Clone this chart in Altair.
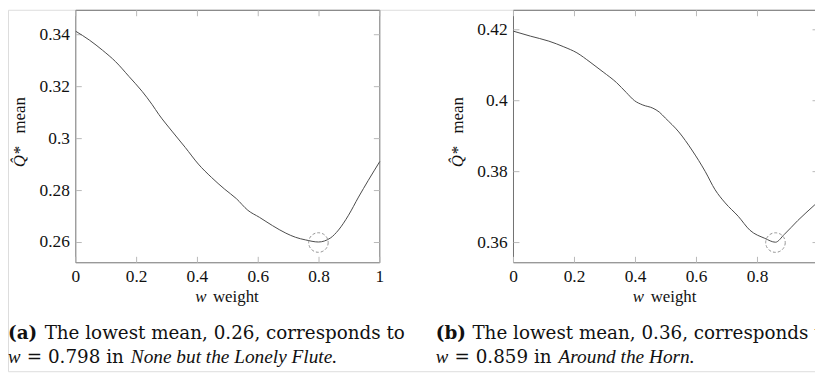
import altair as alt
import pandas as pd

# ---------------- data ----------------
w_a = [0.0, 0.045, 0.088, 0.131, 0.175, 0.218, 0.251, 0.273, 0.316, 0.360, 0.403, 0.446,
       0.490, 0.528, 0.566, 0.604, 0.647, 0.691, 0.723, 0.756, 0.798, 0.837, 0.864, 0.897,
       0.930, 0.962, 1.0]
q_a = [0.3413, 0.3379, 0.3340, 0.3296, 0.3239, 0.3182, 0.3131, 0.3093, 0.3029, 0.2966, 0.2902, 0.2851,
       0.2805, 0.2769, 0.2724, 0.2697, 0.2665, 0.2636, 0.2620, 0.2610, 0.2602, 0.2617, 0.2648, 0.2705,
       0.2775, 0.2839, 0.2912]

w_b = [0.0, 0.056, 0.116, 0.165, 0.208, 0.251, 0.294, 0.338, 0.370, 0.397, 0.424, 0.457,
       0.478, 0.498, 0.542, 0.585, 0.629, 0.661, 0.694, 0.737, 0.775, 0.824, 0.859, 0.888,
       0.932, 0.986, 1.0]
q_b = [0.4196, 0.4182, 0.4168, 0.4152, 0.4135, 0.4109, 0.4081, 0.4051, 0.4023, 0.4000, 0.3988, 0.3979,
       0.3968, 0.3951, 0.3912, 0.3861, 0.3800, 0.3749, 0.3712, 0.3674, 0.3635, 0.3612, 0.3601, 0.3623,
       0.3662, 0.3705, 0.3716]

x_ticks = [0, 0.2, 0.4, 0.6, 0.8, 1.0]
x_labels = ["0", "0.2", "0.4", "0.6", "0.8", "1"]
y_ticks_a = [0.26, 0.28, 0.30, 0.32, 0.34]
y_labels_a = ["0.26", "0.28", "0.3", "0.32", "0.34"]
y_ticks_b = [0.36, 0.38, 0.40, 0.42]
y_labels_b = ["0.36", "0.38", "0.4", "0.42"]
y_dom_a = [0.2522, 0.3494]
y_dom_b = [0.3543, 0.4255]
min_a = [0.798, 0.26]
min_b = [0.859, 0.36]

x_title = ["w", "weight"]
y_title = ["Q\u0302*", "mean"]
cap_a = ["(a)", "The lowest mean, 0.26, corresponds to", "w", "= 0.798 in", "None but the Lonely Flute."]
cap_b = ["(b)", "The lowest mean, 0.36, corresponds to", "w", "= 0.859 in", "Around the Horn."]

# ---------------- style / layout ----------------
TOTAL_W, TOTAL_H = 815, 365
FONT = "Liberation Serif, Times New Roman, serif"
CAPFONT = "DejaVu Serif, serif"
LINE = "#4a4a4a"
FRAME = "#707070"
TICK = "#b8b8b8"
TXT = "#111111"


def txt(s, x, y, size=17, style="normal", weight="normal", align="left", angle=0, font=FONT):
    return alt.Chart(pd.DataFrame({"s": [s]})).mark_text(
        font=font, fontSize=size, fontStyle=style, fontWeight=weight, align=align,
        baseline="alphabetic", angle=angle, color=TXT
    ).encode(text="s:N", x=alt.value(x), y=alt.value(y))


def panel(w, q, ydom, yticks, ylabels, mn, cap, x0, x1, y0, y1, cdx):
    xs = alt.Scale(domain=[0, 1], range=[x0, x1], nice=False, zero=False)
    ys = alt.Scale(domain=ydom, range=[y1, y0], nice=False, zero=False)
    X = lambda f: alt.X(f, scale=xs, axis=None)
    Y = lambda f: alt.Y(f, scale=ys, axis=None)

    frame = alt.Chart(pd.DataFrame({"a": [0], "b": [1], "c": [ydom[0]], "d": [ydom[1]]})).mark_rect(
        fill="white", fillOpacity=0, stroke=FRAME, strokeWidth=1
    ).encode(x=X("a:Q"), x2="b:Q", y=Y("c:Q"), y2="d:Q")

    xt = pd.DataFrame({"t": x_ticks, "lab": x_labels})
    yt = pd.DataFrame({"t": yticks, "lab": ylabels})
    tb = alt.Chart(xt).mark_rule(color=TICK).encode(x=X("t:Q"), y=alt.value(y1), y2=alt.value(y1 - 6))
    tt = alt.Chart(xt).mark_rule(color=TICK).encode(x=X("t:Q"), y=alt.value(y0), y2=alt.value(y0 + 6))
    tl = alt.Chart(yt).mark_rule(color=TICK).encode(y=Y("t:Q"), x=alt.value(x0), x2=alt.value(x0 + 6))
    tr = alt.Chart(yt).mark_rule(color=TICK).encode(y=Y("t:Q"), x=alt.value(x1), x2=alt.value(x1 - 6))

    xl = alt.Chart(xt).mark_text(font=FONT, fontSize=17.5, color=TXT, align="center",
                                 baseline="alphabetic").encode(x=X("t:Q"), y=alt.value(y1 + 19), text="lab:N")
    yl = alt.Chart(yt).mark_text(font=FONT, fontSize=17.5, color=TXT, align="right",
                                 baseline="middle").encode(y=Y("t:Q"), x=alt.value(x0 - 6), text="lab:N")

    df = pd.DataFrame({"w": w, "q": q})
    line = alt.Chart(df).mark_line(color=LINE, strokeWidth=1, interpolate="monotone").encode(
        x=X("w:Q"), y=Y("q:Q"))
    circ = alt.Chart(pd.DataFrame({"w": [mn[0]], "q": [mn[1]]})).mark_point(
        shape="circle", size=390, filled=False, color="#666", strokeWidth=1, strokeDash=[3, 2]
    ).encode(x=X("w:Q"), y=Y("q:Q"))

    texts = [
        txt(x_title[0], x0 + 120.5, 295, style="italic"),
        txt(x_title[1], x0 + 138.5, 295),
        txt(y_title[0], x0 - 51, 159, style="italic", angle=270),
        txt(y_title[1], x0 - 51, 125, angle=270),
        txt(cap[0], cdx, 332, size=18.5, weight="bold", font=CAPFONT),
        txt(cap[1], cdx + 37, 332, size=18.5, font=CAPFONT),
        txt(cap[2], cdx, 357, size=19, style="italic"),
        txt(cap[3], cdx + 19, 357, size=18.5, font=CAPFONT),
        txt(cap[4], cdx + 124, 357, size=19.5, style="italic"),
    ]
    return [frame, tb, tt, tl, tr, xl, yl, line, circ] + texts


layers = (panel(w_a, q_a, y_dom_a, y_ticks_a, y_labels_a, min_a, cap_a, 68.5, 375.5, 0.5, 255.5, 0)
          + panel(w_b, q_b, y_dom_b, y_ticks_b, y_labels_b, min_b, cap_b, 510.5, 818.5, 0.5, 255.5, 432))

chart = alt.layer(*layers).resolve_scale(x="independent", y="independent").properties(
    width=TOTAL_W, height=TOTAL_H, padding=0,
    autosize=alt.AutoSizeParams(type="none")
).configure_view(stroke=None).configure(background="white")

chart.save("out.html", embed_options={"renderer": "svg", "actions": False})
